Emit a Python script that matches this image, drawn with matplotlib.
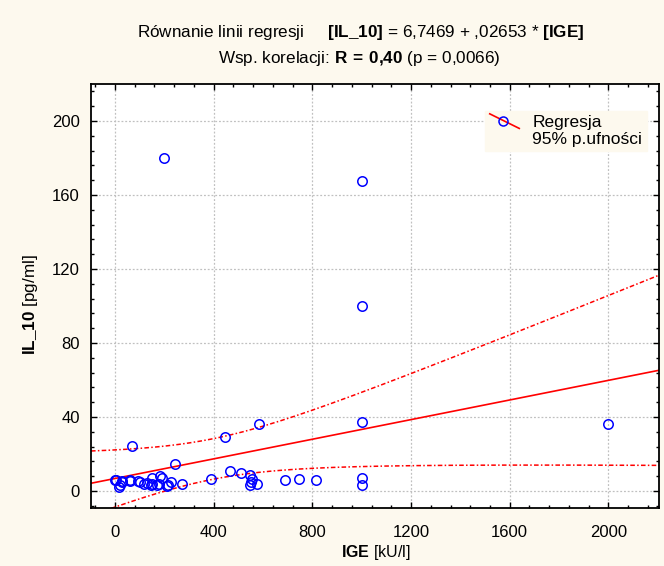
import numpy as np
import matplotlib
matplotlib.use("Agg")
import matplotlib.pyplot as plt
from matplotlib.lines import Line2D
from matplotlib.patches import Patch
from matplotlib.legend_handler import HandlerBase

plt.rcParams["font.family"] = ["Liberation Sans", "DejaVu Sans"]
plt.rcParams["mathtext.fontset"] = "custom"
plt.rcParams["mathtext.rm"] = "Liberation Sans"
plt.rcParams["mathtext.bf"] = "Liberation Sans:bold"

# IgE [kU/l] vs IL-10 [pg/ml]
ige = [200, 1000, 1000, 1000, 585, 447, 70, 245, 2000,
       0, 16, 27, 61, 92, 119, 146, 152, 179, 183, 210, 227, 271,
       390, 466, 509, 548, 554, 548, 575, 688, 747, 813, 1000, 1000,
       5, 20, 30, 60, 100, 130, 150, 170, 190, 215, 550]
il10 = [180, 167.5, 100, 37.5, 36, 29, 24.5, 14.5, 36,
        6, 2, 5.5, 6, 5.5, 4, 3.5, 7, 4, 8, 2.5, 5, 4,
        6.5, 11, 9.5, 8.5, 6.5, 3, 4, 6, 6.5, 6, 7, 3,
        6, 3, 5, 5.5, 5, 4.5, 4, 3.5, 7, 3, 5]

# regression reported on the chart
intercept = 6.7469
slope = 0.02653
t_crit = 2.017

xticks = [0, 400, 800, 1200, 1600, 2000]
yticks = [0, 40, 80, 120, 160, 200]

bg = "#fdf9ee"


class DiagHandler(HandlerBase):
    def create_artists(self, legend, orig, xd, yd, w, h, fs, trans):
        ln = Line2D([0, w], [h * 1.1, -h * 0.1], color="red", lw=1.2, transform=trans)
        mk = Line2D([w * 0.45], [h * 0.55], marker="o", ms=6.5, mfc="none", mec="blue",
                    mew=1.1, ls="", transform=trans)
        return [ln, mk]


class EmptyHandler(HandlerBase):
    def create_artists(self, legend, orig, xd, yd, w, h, fs, trans):
        ln = Line2D([0, w], [0, 0], transform=trans)
        ln.set_visible(False)
        return [ln]


x = np.array(ige, float)
y = np.array(il10, float)
n = len(x)
resid = y - (intercept + slope * x)
s = np.sqrt(np.sum(resid ** 2) / (n - 2))
xbar = x.mean()
sxx = np.sum((x - xbar) ** 2)

xl = (-97, 2205)
xs = np.linspace(xl[0], xl[1], 300)
fit = intercept + slope * xs
hw = t_crit * s * np.sqrt(1 / n + (xs - xbar) ** 2 / sxx)

fig = plt.figure(figsize=(6.64, 5.66), dpi=100, facecolor=bg)
ax = fig.add_axes([91 / 664, 1 - 508 / 566, 568 / 664, 424 / 566])
ax.set_facecolor("white")

ax.plot(x, y, "o", ms=6.8, mfc="none", mec="blue", mew=1.1, zorder=3, clip_on=False)
ax.plot(xs, fit, color="red", lw=1.2, zorder=2)
ax.plot(xs, fit + hw, color="red", lw=1.1, ls=(0, (3, 1.5, 1, 1.5)), zorder=2)
ax.plot(xs, fit - hw, color="red", lw=1.1, ls=(0, (3, 1.5, 1, 1.5)), zorder=2)

ax.set_xlim(*xl)
ax.set_ylim(-9.2, 220)
ax.set_xticks(xticks)
ax.set_yticks(yticks)
ax.set_xticks(np.arange(-80, 2201, 80), minor=True)
ax.set_yticks(np.arange(-8, 220, 8), minor=True)
ax.tick_params(which="both", direction="in", top=True, right=True, width=1)
ax.tick_params(which="major", length=4, labelsize=12)
ax.tick_params(which="minor", length=2.5)
ax.tick_params(axis="x", pad=12)
ax.tick_params(axis="y", pad=8)
ax.grid(True, which="major", color="#c0c0c0", lw=0.9, ls=(0, (1.5, 1.5)))
for sp in ax.spines.values():
    sp.set_linewidth(1.3)

h_reg = Line2D([], [])
h_ci = Patch()
leg = ax.legend([h_reg, h_ci], ["Regresja", "95% p.ufności"],
                handler_map={h_reg: DiagHandler(), h_ci: EmptyHandler()},
                loc="upper right", bbox_to_anchor=(0.978, 0.937),
                borderaxespad=0, fontsize=12.5, frameon=True, fancybox=False,
                handlelength=1.7, handletextpad=0.75, labelspacing=0.1,
                borderpad=0.25)
leg.get_frame().set_facecolor(bg)
leg.get_frame().set_edgecolor(bg)
leg.get_frame().set_alpha(1)

fig.text(0.5437, 1 - 32 / 566,
         r"Równanie linii regresji     $\mathbf{[IL\_10]}$ = 6,7469 + ,02653 * $\mathbf{[IGE]}$",
         ha="center", va="center", fontsize=12.3)
fig.text(0.5407, 1 - 58 / 566,
         r"Wsp. korelacji: $\mathbf{R\,=\,0{,}40}$ (p = 0,0066)",
         ha="center", va="center", fontsize=12.3)
fig.text(376 / 664, 1 - 552 / 566, r"$\mathbf{IGE}$ [kU/l]",
         ha="center", va="center", fontsize=11.5)
fig.text(30 / 664, 1 - 305 / 566, r"$\mathbf{IL\_10}$ [pg/ml]",
         ha="center", va="center", rotation=90, fontsize=12.3)

fig.savefig("out.png", dpi=100, facecolor=bg)
